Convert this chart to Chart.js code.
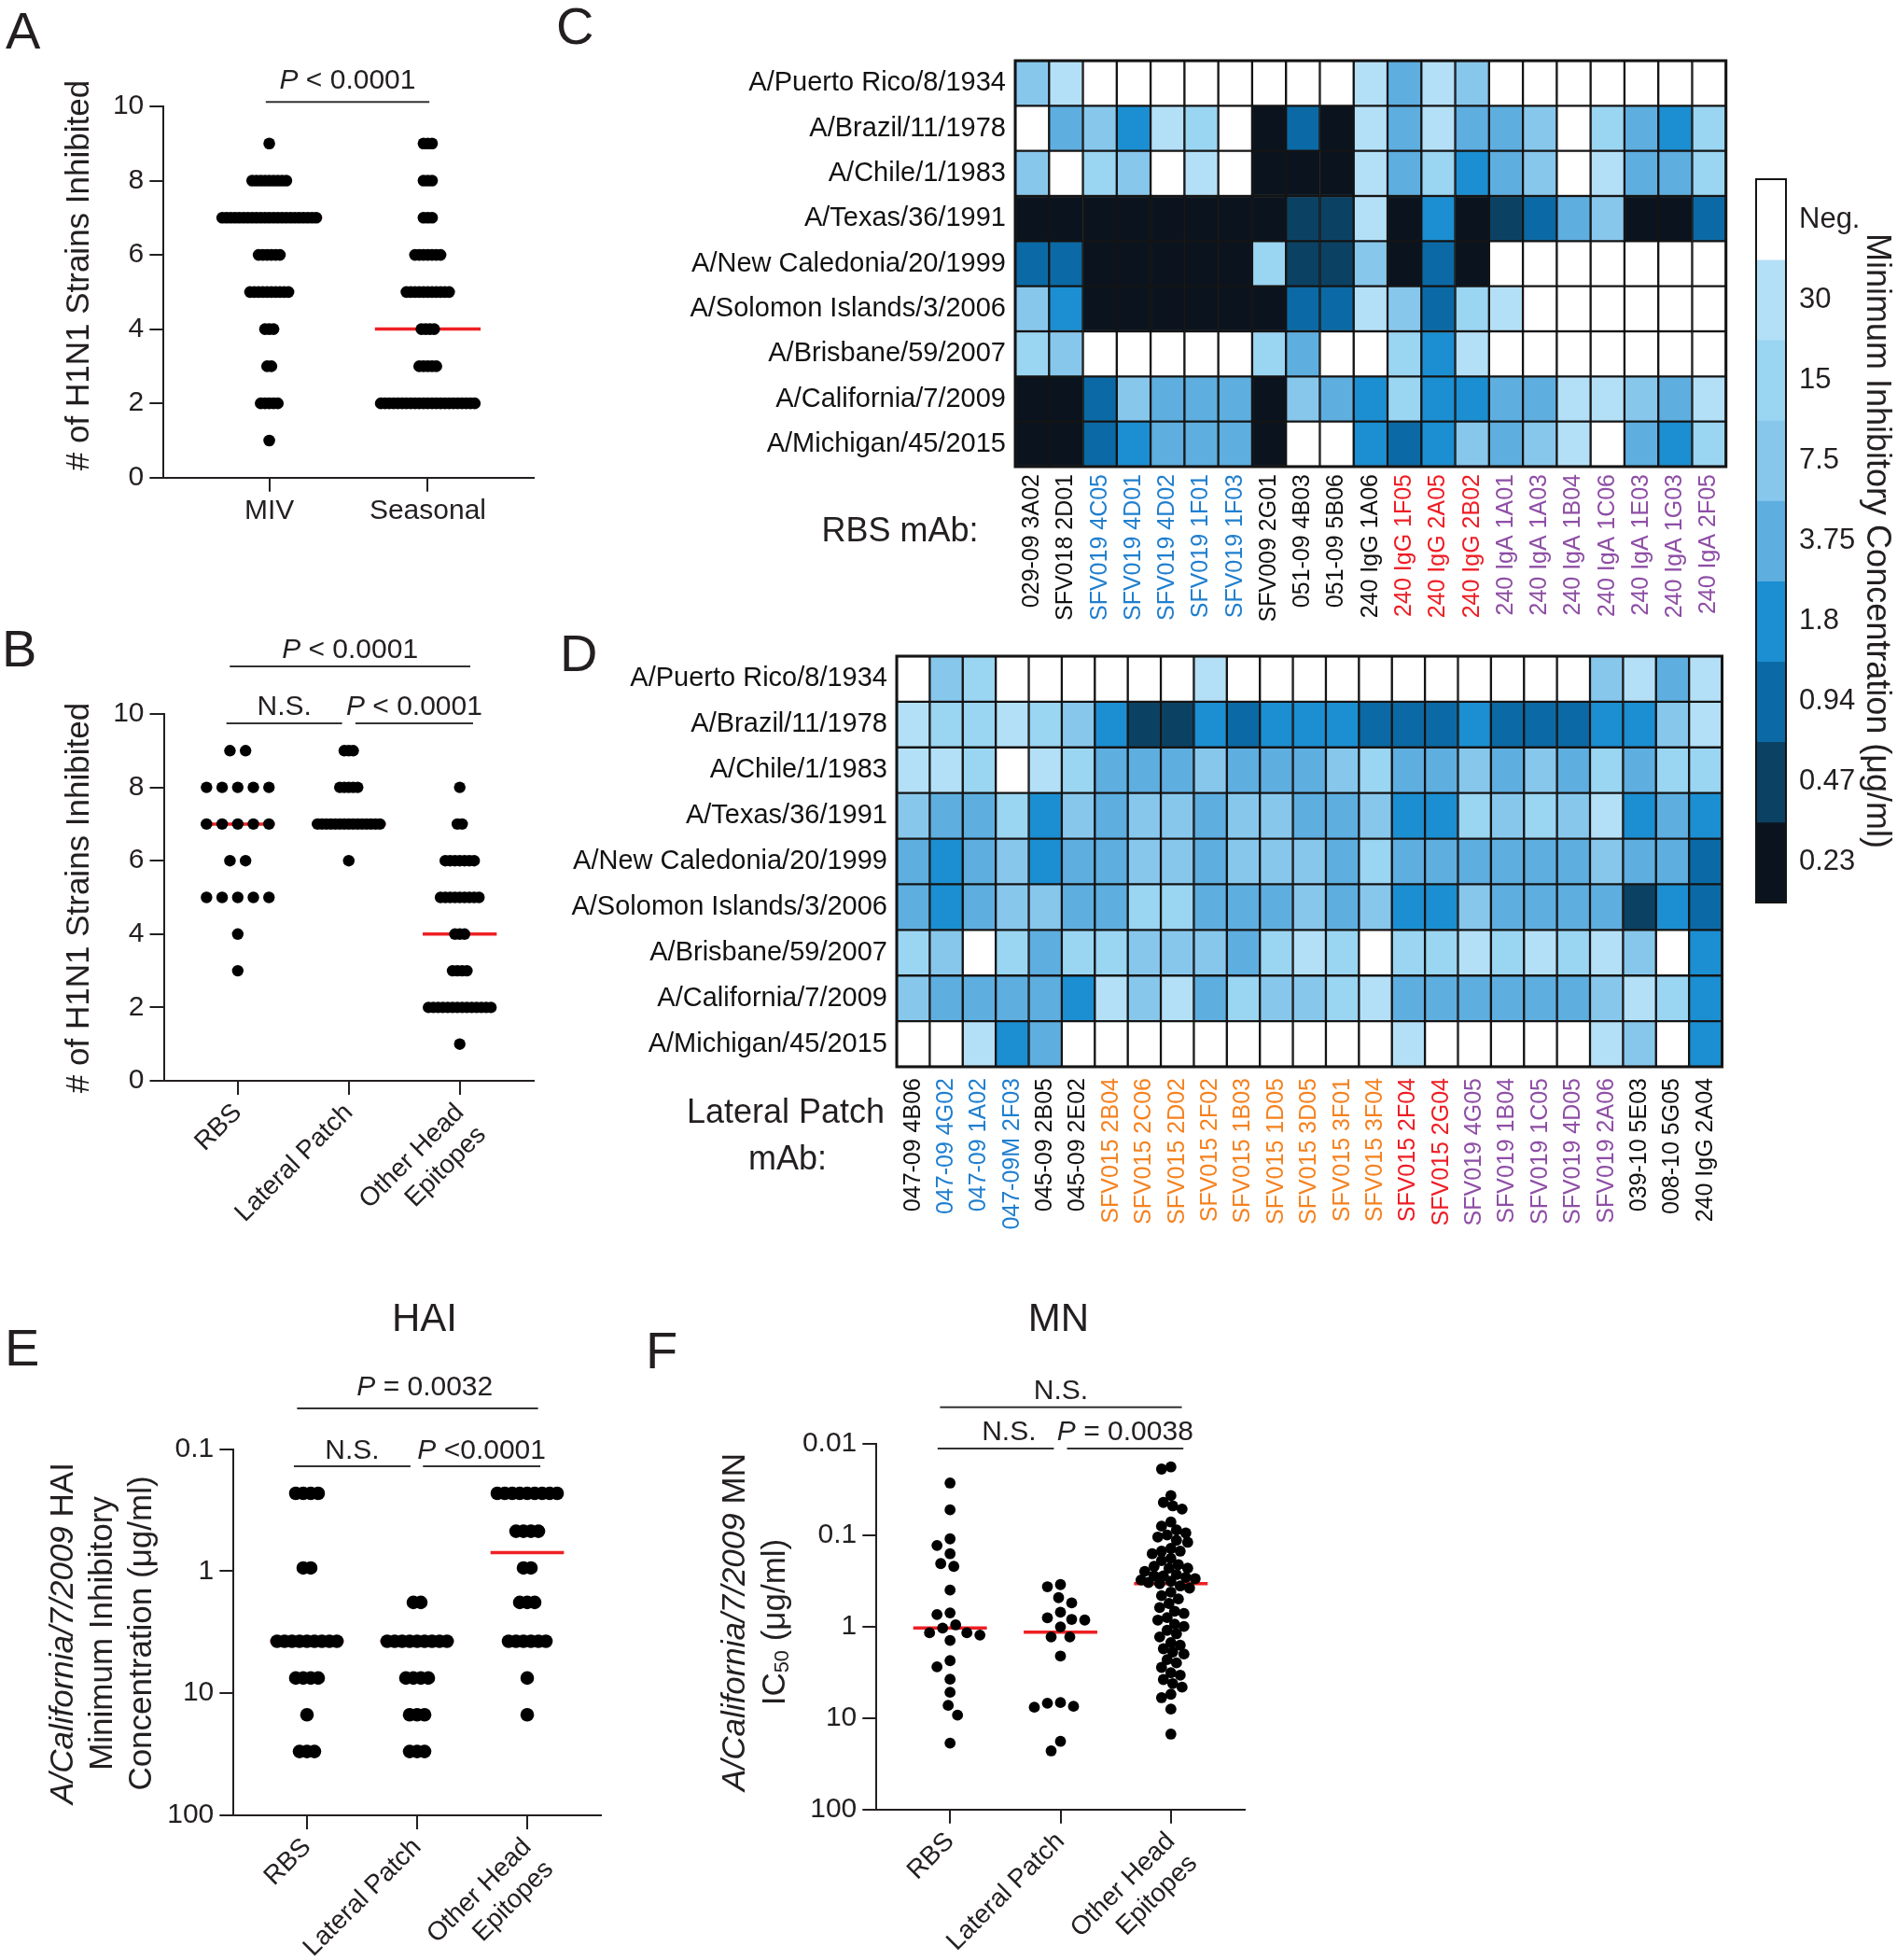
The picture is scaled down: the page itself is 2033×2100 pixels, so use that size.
<!DOCTYPE html>
<html>
<head>
<meta charset="utf-8">
<title>H1N1 breadth of HA head mAbs</title>
<script src="https://cdn.jsdelivr.net/npm/chart.js@4.4.1/dist/chart.umd.min.js"></script>
<style>
  html, body { margin: 0; padding: 0; background: #fff; overflow: hidden; }
  #page { position: relative; width: 2033px; height: 2100px; overflow: hidden; background: #fff; }
  #page canvas { position: absolute; }
</style>
</head>
<body>
<div id="page">
  <canvas id="panelA"></canvas>
  <canvas id="panelB"></canvas>
  <canvas id="panelC"></canvas>
  <canvas id="panelD"></canvas>
  <canvas id="colorKey"></canvas>
  <canvas id="panelE"></canvas>
  <canvas id="panelF"></canvas>
</div>
<script>
// ---------- data ----------

// A: number of H1N1 strains inhibited, count of mAbs at each level
const aGroups = ['MIV', 'Seasonal'];
const aLevels = [1, 2, 3, 4, 5, 6, 7, 8, 9];
const aMIV = [1, 5, 2, 3, 10, 6, 23, 9, 1];
const aSeasonal = [0, 23, 5, 4, 11, 7, 3, 3, 3];
const aSig = ['P < 0.0001'];

// B: same measure split by epitope
const bGroups = ['RBS', 'Lateral Patch', ['Other Head', 'Epitopes']];
const bLevels = [1, 2, 3, 4, 5, 6, 7, 8, 9];
const bRBS = [0, 0, 1, 1, 5, 2, 5, 5, 2];
const bLateral = [0, 0, 0, 0, 0, 1, 15, 5, 3];
const bOther = [1, 14, 4, 3, 9, 7, 2, 1, 0];
const bSig = ['P < 0.0001', 'N.S.', 'P < 0.0001'];

// C / D: minimum inhibitory concentration (ug/ml), null = negative
const N = null;
const strains = [
  'A/Puerto Rico/8/1934', 'A/Brazil/11/1978', 'A/Chile/1/1983', 'A/Texas/36/1991',
  'A/New Caledonia/20/1999', 'A/Solomon Islands/3/2006', 'A/Brisbane/59/2007',
  'A/California/7/2009', 'A/Michigan/45/2015',
];
const micSteps = [30, 15, 7.5, 3.75, 1.8, 0.94, 0.47, 0.23];
const micKeyLabels = ['Neg.', '30', '15', '7.5', '3.75', '1.8', '0.94', '0.47', '0.23'];

const cMabs = [
  '029-09 3A02', 'SFV018 2D01', 'SFV019 4C05', 'SFV019 4D01', 'SFV019 4D02', 'SFV019 1F01',
  'SFV019 1F03', 'SFV009 2G01', '051-09 4B03', '051-09 5B06', '240 IgG 1A06', '240 IgG 1F05',
  '240 IgG 2A05', '240 IgG 2B02', '240 IgA 1A01', '240 IgA 1A03', '240 IgA 1B04', '240 IgA 1C06',
  '240 IgA 1E03', '240 IgA 1G03', '240 IgA 2F05',
];
const cMic = [
  [7.5, 30, N, N, N, N, N, N, N, N, 30, 3.75, 30, 7.5, N, N, N, N, N, N, N],
  [N, 3.75, 7.5, 1.8, 30, 15, N, 0.23, 0.94, 0.23, 30, 3.75, 30, 3.75, 3.75, 7.5, N, 15, 3.75, 1.8, 15],
  [7.5, N, 15, 7.5, N, 30, N, 0.23, 0.23, 0.23, 30, 3.75, 15, 1.8, 3.75, 7.5, N, 30, 3.75, 3.75, 15],
  [0.23, 0.23, 0.23, 0.23, 0.23, 0.23, 0.23, 0.23, 0.47, 0.47, 30, 0.23, 1.8, 0.23, 0.47, 0.94, 3.75, 7.5, 0.23, 0.23, 0.94],
  [0.94, 0.94, 0.23, 0.23, 0.23, 0.23, 0.23, 15, 0.47, 0.47, 7.5, 0.23, 0.94, 0.23, N, N, N, N, N, N, N],
  [7.5, 1.8, 0.23, 0.23, 0.23, 0.23, 0.23, 0.23, 0.94, 0.94, 30, 7.5, 0.94, 15, 30, N, N, N, N, N, N],
  [15, 7.5, N, N, N, N, N, 15, 3.75, N, N, 15, 1.8, 30, N, N, N, N, N, N, N],
  [0.23, 0.23, 0.94, 7.5, 3.75, 3.75, 3.75, 0.23, 7.5, 3.75, 1.8, 15, 1.8, 1.8, 3.75, 3.75, 30, 30, 7.5, 3.75, 30],
  [0.23, 0.23, 0.94, 1.8, 3.75, 3.75, 3.75, 0.23, N, N, 1.8, 0.94, 1.8, 7.5, 3.75, 7.5, 30, N, 3.75, 1.8, 15],
];

const dMabs = [
  '047-09 4B06', '047-09 4G02', '047-09 1A02', '047-09M 2F03', '045-09 2B05', '045-09 2E02',
  'SFV015 2B04', 'SFV015 2C06', 'SFV015 2D02', 'SFV015 2F02', 'SFV015 1B03', 'SFV015 1D05',
  'SFV015 3D05', 'SFV015 3F01', 'SFV015 3F04', 'SFV015 2F04', 'SFV015 2G04', 'SFV019 4G05',
  'SFV019 1B04', 'SFV019 1C05', 'SFV019 4D05', 'SFV019 2A06', '039-10 5E03', '008-10 5G05',
  '240 IgG 2A04',
];
const dMic = [
  [N, 7.5, 15, N, N, N, N, N, N, 30, N, N, N, N, N, N, N, N, N, N, N, 7.5, 30, 3.75, 30],
  [30, 15, 15, 30, 15, 7.5, 1.8, 0.47, 0.47, 1.8, 0.94, 1.8, 1.8, 1.8, 0.94, 0.94, 0.94, 1.8, 0.94, 0.94, 0.94, 1.8, 1.8, 7.5, 30],
  [30, 30, 15, N, 30, 15, 3.75, 3.75, 3.75, 7.5, 3.75, 3.75, 3.75, 7.5, 15, 3.75, 3.75, 7.5, 3.75, 7.5, 3.75, 15, 3.75, 15, 15],
  [7.5, 3.75, 3.75, 15, 1.8, 7.5, 3.75, 7.5, 7.5, 3.75, 7.5, 7.5, 3.75, 3.75, 7.5, 1.8, 1.8, 15, 7.5, 15, 7.5, 30, 1.8, 3.75, 1.8],
  [3.75, 1.8, 3.75, 7.5, 1.8, 3.75, 3.75, 7.5, 7.5, 3.75, 7.5, 7.5, 7.5, 3.75, 15, 3.75, 3.75, 3.75, 3.75, 3.75, 3.75, 7.5, 3.75, 3.75, 0.94],
  [3.75, 1.8, 3.75, 7.5, 7.5, 3.75, 3.75, 15, 15, 3.75, 3.75, 3.75, 7.5, 3.75, 7.5, 1.8, 1.8, 7.5, 3.75, 3.75, 3.75, 3.75, 0.47, 1.8, 0.94],
  [15, 7.5, N, 15, 3.75, 15, 15, 7.5, 7.5, 7.5, 3.75, 15, 30, 15, N, 15, 15, 30, 15, 30, 15, 30, 7.5, N, 1.8],
  [7.5, 3.75, 3.75, 3.75, 3.75, 1.8, 30, 7.5, 30, 3.75, 15, 7.5, 7.5, 15, 30, 3.75, 3.75, 3.75, 3.75, 3.75, 3.75, 7.5, 30, 15, 1.8],
  [N, N, 30, 1.8, 3.75, N, N, N, N, N, N, N, N, N, N, 30, N, N, N, N, N, 30, 7.5, N, 1.8],
];

// E: HAI MIC against A/California/7/2009, count of mAbs at each dilution
const eGroups = ['RBS', 'Lateral Patch', ['Other Head', 'Epitopes']];
const eLevels = [0.23, 0.47, 0.94, 1.8, 3.75, 7.5, 15, 30];
const eRBS = [4, 0, 2, 0, 9, 4, 1, 3];
const eLateral = [0, 0, 0, 2, 9, 4, 3, 3];
const eOther = [9, 4, 2, 3, 6, 1, 1, 0];
const eSig = ['P = 0.0032', 'N.S.', 'P <0.0001'];

// F: MN IC50 against A/California/7/2009 (ug/ml)
const fGroups = ['RBS', 'Lateral Patch', ['Other Head', 'Epitopes']];
const fRBS = [0.027, 0.053, 0.11, 0.13, 0.16, 0.205, 0.22, 0.40, 0.71, 0.74, 0.96, 1.04,
  1.17, 1.17, 1.24, 1.42, 2.36, 2.76, 3.77, 5.24, 7.27, 9.3, 18.8];
const fLateral = [0.348, 0.367, 0.483, 0.552, 0.697, 0.803, 0.835, 0.849, 1.01, 1.30, 1.30,
  2.1, 6.78, 6.89, 7.45, 7.62, 18.0, 22.9];
const fOther = [0.018, 0.019, 0.037, 0.044, 0.048, 0.052, 0.072, 0.080, 0.088, 0.095, 0.10,
  0.105, 0.114, 0.12, 0.14, 0.15, 0.15, 0.16, 0.18, 0.19, 0.21, 0.22, 0.23, 0.23, 0.25, 0.27,
  0.28, 0.28, 0.29, 0.30, 0.31, 0.32, 0.33, 0.34, 0.36, 0.38, 0.42, 0.46, 0.50, 0.56, 0.62,
  0.68, 0.72, 0.80, 0.85, 0.94, 1.0, 1.1, 1.2, 1.3, 1.5, 1.6, 1.75, 1.9, 2.0, 2.3, 2.5, 2.8,
  3.2, 3.4, 3.8, 4.2, 4.6, 5.5, 6.0, 8.0, 15];
const fSig = ['N.S.', 'N.S.', 'P = 0.0038'];

// ---------- styling ----------
const FONT = '"Liberation Sans", Arial, Helvetica, sans-serif';
const INK = '#231f20';
const RED = '#ee2024';
const PALETTE = ['#b4e0f7', '#9ad5f2', '#88c7ec', '#5eaee0', '#1b8fd2', '#0b6aa5', '#0b4264', '#0b141e'];
const BLK = '#111', BLU = '#1f7fcf', RD = '#ee1d24', PUR = '#8e4ea5', ORG = '#f58220';
const cLabelInk = [BLK, BLK, BLU, BLU, BLU, BLU, BLU, BLK, BLK, BLK, BLK, RD, RD, RD,
  PUR, PUR, PUR, PUR, PUR, PUR, PUR];
const dLabelInk = [BLK, BLU, BLU, BLU, BLK, BLK, ORG, ORG, ORG, ORG, ORG, ORG, ORG, ORG, ORG,
  RD, RD, PUR, PUR, PUR, PUR, PUR, BLK, BLK, BLK];

Chart.defaults.font.family = FONT;
Chart.defaults.color = INK;

const micColor = (v) => (v == null ? '#ffffff' : PALETTE[micSteps.indexOf(v)]);

// ---------- helpers ----------
function place(id, b) {
  const c = document.getElementById(id);
  c.width = b.w;
  c.height = b.h;
  c.style.left = b.x + 'px';
  c.style.top = b.y + 'px';
  return c;
}

function frame(box, area, padBottom) {
  return {
    padding: { left: 0, top: area.t - box.y, right: box.x + box.w - area.r, bottom: padBottom },
    yWidth: area.l - box.x,
    xHeight: box.y + box.h - area.b - padBottom,
  };
}

function sigRuns(s) {
  return s.startsWith('P') ? [{ t: 'P', i: true }, { t: s.slice(1) }] : [{ t: s }];
}

function drawRuns(ctx, runs, x, y, size, rot, align, base) {
  const fontOf = (r) => `${r.i ? 'italic ' : ''}${r.sub ? size * 0.62 : size}px ${FONT}`;
  ctx.save();
  ctx.translate(x, y);
  if (rot) ctx.rotate(rot);
  ctx.fillStyle = INK;
  ctx.textAlign = 'left';
  ctx.textBaseline = base || 'alphabetic';
  let total = 0;
  for (const r of runs) { ctx.font = fontOf(r); total += ctx.measureText(r.t).width; }
  let cx = align === 'left' ? 0 : -total / 2;
  for (const r of runs) {
    ctx.font = fontOf(r);
    ctx.fillText(r.t, cx, r.sub ? size * 0.24 : 0);
    cx += ctx.measureText(r.t).width;
  }
  ctx.restore();
}

// letters, titles, significance brackets and heat-map frames
const panelText = {
  id: 'panelText',
  afterDraw(chart, _args, o) {
    const ctx = chart.ctx;
    const a = chart.chartArea;
    if (o.frame) {
      ctx.save();
      ctx.strokeStyle = '#141414';
      ctx.lineWidth = o.frame;
      ctx.strokeRect(a.left, a.top, a.right - a.left, a.bottom - a.top);
      ctx.restore();
    }
    (o.brackets || []).forEach((b) => {
      const xs = chart.scales.x;
      const x1 = xs.getPixelForValue(b.x1), x2 = xs.getPixelForValue(b.x2);
      ctx.save();
      ctx.strokeStyle = '#333';
      ctx.lineWidth = 2;
      ctx.beginPath();
      ctx.moveTo(x1, a.top + b.dy);
      ctx.lineTo(x2, a.top + b.dy);
      ctx.stroke();
      ctx.restore();
      const tx = b.tx != null ? xs.getPixelForValue(b.tx) : (x1 + x2) / 2;
      drawRuns(ctx, sigRuns(b.label), tx, a.top + b.ty, 30, 0, 'center');
    });
    (o.items || []).forEach((it) =>
      drawRuns(ctx, it.runs, it.x, it.y, it.size, it.rot || 0, it.align || 'center', it.base));
  },
};
Chart.register(panelText);

const expand = (levels, counts) => counts.flatMap((n, j) => Array(n).fill(levels[j]));
function median(vals) {
  const s = [...vals].sort((p, q) => p - q);
  const m = s.length >> 1;
  return s.length % 2 ? s[m] : (s[m - 1] + s[m]) / 2;
}

// each level becomes a centred row; the widest row fills +-1/3 of a category
function rowDots(levels, counts, cat, unitPx, r) {
  const nmax = Math.max(...counts);
  const step = nmax > 1 ? (2 * unitPx / 3 - 2 * r) / (nmax - 1) / unitPx : 0;
  const pts = [];
  counts.forEach((n, j) => {
    for (let i = 0; i < n; i++) pts.push({ x: cat + (i - (n - 1) / 2) * step, y: levels[j] });
  });
  return pts;
}

// simple beeswarm for continuous values
function swarm(values, cat, unitPx, yPx, r, minDist) {
  const reach = unitPx / 3 - r;
  const placed = [];
  const out = [];
  [...values].sort((p, q) => p - q).forEach((v) => {
    const y = yPx(v);
    let best = 0, bestGap = -1;
    search:
    for (let k = 0; k <= reach; k += 2) {
      for (const dx of (k ? [-k, k] : [0])) {
        let gap = Infinity;
        for (const p of placed) gap = Math.min(gap, Math.hypot(p.x - dx, p.y - y));
        if (gap >= minDist) { best = dx; break search; }
        if (gap > bestGap) { bestGap = gap; best = dx; }
      }
    }
    placed.push({ x: best, y });
    out.push({ x: cat + best / unitPx, y: v });
  });
  return out;
}

const dotSet = (pts, r) => ({
  data: pts, pointRadius: r, pointHoverRadius: r, pointBackgroundColor: '#000',
  pointBorderWidth: 0, showLine: false, clip: false,
});
const medianSet = (cat, med) => ({
  data: [{ x: cat - 1 / 3, y: med }, { x: cat + 1 / 3, y: med }],
  showLine: true, borderColor: RED, borderWidth: 3.5, pointRadius: 0, clip: false,
});

const axisGrid = { drawOnChartArea: false, drawTicks: true, tickLength: 15, color: INK, lineWidth: 2 };
const axisBorder = { color: INK, width: 2 };

function dotPlot(id, box, area, o) {
  const f = frame(box, area, 4);
  return new Chart(place(id, box), {
    type: 'scatter',
    data: { datasets: o.datasets },
    options: {
      responsive: false, animation: false, events: [],
      layout: { padding: f.padding },
      plugins: {
        legend: { display: false }, tooltip: { enabled: false },
        panelText: { items: o.items, brackets: o.brackets },
      },
      scales: {
        x: {
          type: 'linear', min: 1 / 3, max: o.groups.length + 2 / 3,
          afterFit: (s) => { s.height = f.xHeight; },
          afterBuildTicks: (s) => { s.ticks = o.groups.map((g, i) => ({ value: i + 1 })); },
          ticks: {
            callback: (v) => o.groups[Math.round(v) - 1], autoSkip: false,
            minRotation: o.rot, maxRotation: o.rot, font: { size: o.rot ? 28 : 30 },
            color: INK, padding: 3,
          },
          grid: axisGrid, border: axisBorder,
        },
        y: {
          type: o.log ? 'logarithmic' : 'linear', min: o.yMin, max: o.yMax, reverse: !!o.log,
          afterFit: (s) => { s.width = f.yWidth; },
          afterBuildTicks: (s) => { s.ticks = o.yTicks.map((v) => ({ value: v })); },
          ticks: { callback: (v) => String(v), font: { size: 30 }, color: INK, padding: 6 },
          grid: axisGrid, border: axisBorder,
        },
      },
    },
  });
}

function heatMap(id, box, area, mabs, mic, inks, labelPad, items) {
  const f = frame(box, area, 0);
  return new Chart(place(id, box), {
    type: 'bar',
    data: {
      labels: mabs,
      datasets: mic.map((row, i) => ({
        data: row.map(() => [i - 0.5, i + 0.5]),
        backgroundColor: row.map(micColor),
        borderColor: '#141414', borderWidth: 1.5, borderSkipped: false,
        grouped: false, barPercentage: 1, categoryPercentage: 1,
      })),
    },
    options: {
      responsive: false, animation: false, events: [],
      layout: { padding: f.padding },
      plugins: { legend: { display: false }, tooltip: { enabled: false }, panelText: { frame: 3, items } },
      scales: {
        x: {
          afterFit: (s) => { s.height = f.xHeight; },
          ticks: {
            autoSkip: false, minRotation: 90, maxRotation: 90, font: { size: 25 },
            color: (c) => inks[c.index], padding: labelPad,
          },
          grid: { display: false, drawTicks: false }, border: { display: false },
        },
        y: {
          type: 'linear', min: -0.5, max: strains.length - 0.5, reverse: true,
          afterFit: (s) => { s.width = f.yWidth; },
          afterBuildTicks: (s) => { s.ticks = strains.map((_, i) => ({ value: i })); },
          ticks: { callback: (v) => strains[v], font: { size: 29 }, color: '#111', padding: 10 },
          grid: { display: false, drawTicks: false }, border: { display: false },
        },
      },
    },
  });
}

const letter = (t, x, y) => ({ runs: [{ t }], x, y, size: 56, align: 'left' });

// ---------- panel A ----------
const A_BOX = { x: 0, y: 0, w: 600, h: 640 };
const A_AREA = { l: 175.3, t: 114, r: 571.7, b: 511.7 };
const aUnit = (A_AREA.r - A_AREA.l) / (aGroups.length + 1 / 3);
const aSeries = [aMIV, aSeasonal];
dotPlot('panelA', A_BOX, A_AREA, {
  groups: aGroups, rot: 0, yMin: 0, yMax: 10, yTicks: [0, 2, 4, 6, 8, 10],
  datasets: [
    ...aSeries.map((c, g) => dotSet(rowDots(aLevels, c, g + 1, aUnit, 6.3), 6.3)),
    ...aSeries.map((c, g) => medianSet(g + 1, median(expand(aLevels, c)))),
  ],
  brackets: [{ x1: 0.978, x2: 2.01, dy: -4.7, ty: -19, label: aSig[0] }],
  items: [
    letter('A', 6, 52),
    { runs: [{ t: '# of H1N1 Strains Inhibited' }], x: 85, y: 295, size: 35, rot: -Math.PI / 2, base: 'middle' },
  ],
});

// ---------- panel B ----------
const B_BOX = { x: 0, y: 640, w: 600, h: 700 };
const B_AREA = { l: 175.5, t: 765, r: 572, b: 1158 };
const bUnit = (B_AREA.r - B_AREA.l) / (bGroups.length + 1 / 3);
const bSeries = [bRBS, bLateral, bOther];
dotPlot('panelB', B_BOX, B_AREA, {
  groups: bGroups, rot: 45, yMin: 0, yMax: 10, yTicks: [0, 2, 4, 6, 8, 10],
  datasets: [
    ...bSeries.map((c, g) => dotSet(rowDots(bLevels, c, g + 1, bUnit, 6.2), 6.2)),
    ...bSeries.map((c, g) => medianSet(g + 1, median(expand(bLevels, c)))),
  ],
  brackets: [
    { x1: 0.928, x2: 3.095, dy: -51, ty: -60, label: bSig[0] },
    { x1: 0.898, x2: 1.94, dy: 10, ty: 1, label: bSig[1] },
    { x1: 2.06, x2: 3.12, dy: 10, ty: 1, label: bSig[2] },
  ],
  items: [
    letter('B', 2, 74),
    { runs: [{ t: '# of H1N1 Strains Inhibited' }], x: 85, y: 322, size: 35, rot: -Math.PI / 2, base: 'middle' },
  ],
});

// ---------- panels C and D ----------
heatMap('panelC', { x: 590, y: 0, w: 1280, h: 690 }, { l: 1088, t: 65, r: 1853, b: 500 },
  cMabs, cMic, cLabelInk, 8, [
    letter('C', 6, 47),
    { runs: [{ t: 'RBS mAb:' }], x: 374.5, y: 570, size: 36, base: 'middle' },
  ]);
heatMap('panelD', { x: 590, y: 660, w: 1280, h: 680 }, { l: 961, t: 703, r: 1862, b: 1143 },
  dMabs, dMic, dLabelInk, 12, [
    letter('D', 10, 59),
    { runs: [{ t: 'Lateral Patch' }], x: 252, y: 533, size: 36, base: 'middle' },
    { runs: [{ t: 'mAb:' }], x: 254, y: 583, size: 36, base: 'middle' },
  ]);

// ---------- colour key ----------
new Chart(place('colorKey', { x: 1860, y: 150, w: 173, h: 860 }), {
  type: 'bar',
  data: {
    labels: [''],
    datasets: micKeyLabels.map((lab, i) => ({
      data: [[i - 0.5, i + 0.5]],
      backgroundColor: i ? PALETTE[i - 1] : '#ffffff',
      borderWidth: 0, grouped: false, barPercentage: 1, categoryPercentage: 1,
    })),
  },
  options: {
    responsive: false, animation: false, events: [],
    layout: { padding: { left: 22, top: 42, bottom: 43, right: 0 } },
    plugins: { legend: { display: false }, tooltip: { enabled: false }, panelText: { frame: 2 } },
    scales: {
      x: { display: false },
      y: {
        position: 'right', type: 'linear', min: -0.5, max: micKeyLabels.length - 0.5, reverse: true,
        afterFit: (s) => { s.width = 119; },
        afterBuildTicks: (s) => { s.ticks = micKeyLabels.map((_, i) => ({ value: i })); },
        ticks: { callback: (v) => micKeyLabels[v], font: { size: 31 }, color: INK, padding: 14 },
        grid: { display: false, drawTicks: false }, border: { display: false },
        title: {
          display: true, text: 'Minimum Inhibitory Concentration (μg/ml)',
          font: { size: 36 }, color: INK, padding: 0,
        },
      },
    },
  },
});

// ---------- panel E ----------
const E_BOX = { x: 0, y: 1370, w: 690, h: 730 };
const E_AREA = { l: 250.3, t: 1552.7, r: 643.7, b: 1945 };
const eUnit = (E_AREA.r - E_AREA.l) / (eGroups.length + 1 / 3);
const eSeries = [eRBS, eLateral, eOther];
dotPlot('panelE', E_BOX, E_AREA, {
  groups: eGroups, rot: 45, log: true, yMin: 0.1, yMax: 100, yTicks: [0.1, 1, 10, 100],
  datasets: [
    ...eSeries.map((c, g) => dotSet(rowDots(eLevels, c, g + 1, eUnit, 7.3), 7.3)),
    ...eSeries.map((c, g) => medianSet(g + 1, median(expand(eLevels, c)))),
  ],
  brackets: [
    { x1: 0.91, x2: 3.098, dy: -43.7, ty: -57.7, tx: 2.07, label: eSig[0] },
    { x1: 0.881, x2: 1.94, dy: 18.3, ty: 10.3, label: eSig[1] },
    { x1: 2.053, x2: 3.119, dy: 18.3, ty: 10.3, label: eSig[2] },
  ],
  items: [
    letter('E', 5, 93),
    { runs: [{ t: 'HAI' }], x: 455, y: 56, size: 42 },
    { runs: [{ t: 'A/California/7/2009', i: true }, { t: ' HAI' }], x: 68, y: 380, size: 35, rot: -Math.PI / 2, base: 'middle' },
    { runs: [{ t: 'Minimum Inhibitory' }], x: 110, y: 380, size: 35, rot: -Math.PI / 2, base: 'middle' },
    { runs: [{ t: 'Concentration (μg/ml)' }], x: 152, y: 380, size: 35, rot: -Math.PI / 2, base: 'middle' },
  ],
});

// ---------- panel F ----------
const F_BOX = { x: 690, y: 1370, w: 700, h: 730 };
const F_AREA = { l: 939.3, t: 1546.7, r: 1333.7, b: 1938.7 };
const fUnit = (F_AREA.r - F_AREA.l) / (fGroups.length + 1 / 3);
const fDecade = (F_AREA.b - F_AREA.t) / 4;
const fY = (v) => (Math.log10(v) + 2) * fDecade;
const fSeries = [fRBS, fLateral, fOther];
const fGap = [14, 14, 10];
dotPlot('panelF', F_BOX, F_AREA, {
  groups: fGroups, rot: 45, log: true, yMin: 0.01, yMax: 100, yTicks: [0.01, 0.1, 1, 10, 100],
  datasets: [
    ...fSeries.map((v, g) => dotSet(swarm(v, g + 1, fUnit, fY, 5.9, fGap[g]), 5.9)),
    ...fSeries.map((v, g) => medianSet(g + 1, median(v))),
  ],
  brackets: [
    { x1: 0.909, x2: 3.099, dy: -39, ty: -47.7, label: fSig[0] },
    { x1: 0.887, x2: 1.94, dy: 5.3, ty: -3.7, tx: 1.534, label: fSig[1] },
    { x1: 2.059, x2: 3.113, dy: 5.3, ty: -3.7, label: fSig[2] },
  ],
  items: [
    letter('F', 2, 96),
    { runs: [{ t: 'MN' }], x: 444.5, y: 56, size: 42 },
    { runs: [{ t: 'A/California/7/2009', i: true }, { t: ' MN' }], x: 98, y: 368, size: 35, rot: -Math.PI / 2, base: 'middle' },
    { runs: [{ t: 'IC' }, { t: '50', sub: true }, { t: ' (μg/ml)' }], x: 141, y: 368, size: 35, rot: -Math.PI / 2, base: 'middle' },
  ],
});
</script>
</body>
</html>
